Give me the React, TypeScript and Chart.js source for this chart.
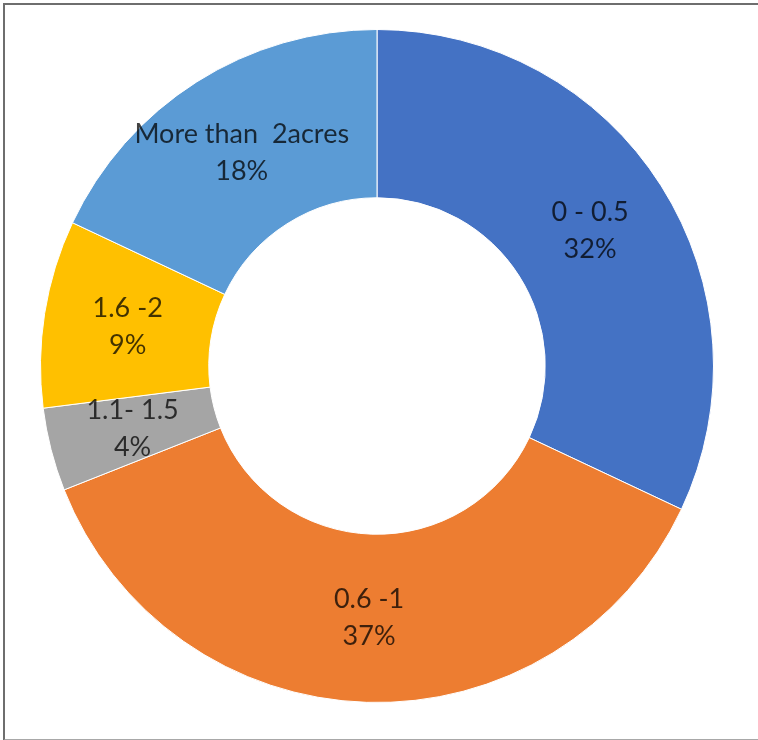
import React, { useEffect, useRef } from "react";
import { Chart, registerables } from "chart.js";

Chart.register(...registerables);

const categories = ["0 - 0.5", "0.6 -1", "1.1- 1.5", "1.6 -2", "More than  2acres"];
const percentValues = [32, 37, 4, 9, 18];
const sliceColors = ["#4472C4", "#ED7D31", "#A5A5A5", "#FFC000", "#5B9BD5"];

const labelPlugin = {
  id: "sliceLabels",
  afterDatasetsDraw(chart: any) {
    const ctx = chart.ctx;
    const meta = chart.getDatasetMeta(0);
    ctx.save();
    ctx.font = "27px Lato, 'Open Sans', sans-serif";
    ctx.textAlign = "center";
    ctx.textBaseline = "middle";
    ctx.fillStyle = "rgba(0,0,0,0.74)";
    meta.data.forEach((arc: any, i: number) => {
      const p = arc.tooltipPosition();
      const lines = [categories[i], percentValues[i] + "%"];
      const lh = 37;
      lines.forEach((t, j) => {
        ctx.fillText(t, p.x, p.y + (j - (lines.length - 1) / 2) * lh);
      });
    });
    ctx.restore();
  },
};

export default function App() {
  const ref = useRef<HTMLCanvasElement>(null);
  useEffect(() => {
    document.body.style.margin = "0";
    document.body.style.overflow = "hidden";
    const chart = new Chart(ref.current!, {
      type: "doughnut",
      data: {
        labels: categories,
        datasets: [
          {
            data: percentValues,
            backgroundColor: sliceColors,
            borderColor: "#ffffff",
            borderWidth: 1,
          },
        ],
      },
      options: {
        animation: false,
        responsive: false,
        cutout: "50%",
        layout: { padding: { left: 40, top: 29, right: 44, bottom: 37 } },
        plugins: {
          legend: { display: false },
          tooltip: { enabled: false },
        },
      },
      plugins: [labelPlugin],
    });
    return () => chart.destroy();
  }, []);
  return (
    <div
      style={{
        position: "fixed",
        left: 0,
        top: 0,
        width: 758,
        height: 740,
        overflow: "hidden",
        background: "#fff",
      }}
    >
      <div
        style={{
          position: "absolute",
          left: 3,
          top: 3,
          width: 780,
          height: 734,
          boxSizing: "content-box",
          borderLeft: "2px solid #6e6e6e",
          borderTop: "2px solid #6e6e6e",
          borderBottom: "2px solid #a8a8a8",
          borderRight: "none",
        }}
      />
      <canvas
        ref={ref}
        width={758}
        height={740}
        style={{ position: "absolute", left: 0, top: 0, width: 758, height: 740, display: "block" }}
      />
    </div>
  );
}
